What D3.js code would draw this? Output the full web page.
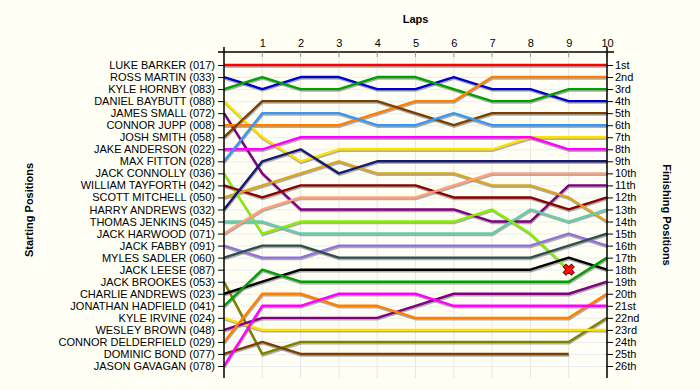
<!DOCTYPE html>
<html>
<head>
<meta charset="utf-8">
<script src="https://cdn.jsdelivr.net/npm/d3@7"></script>
<style>
  body { margin: 0; background: #fffff5; }
  svg { display: block; font-family: "Liberation Sans", Arial, sans-serif; }
</style>
</head>
<body>
<svg id="chart" width="700" height="390"></svg>
<script>
// drivers in starting order
var drivers = [
  "LUKE BARKER (017)", "ROSS MARTIN (033)", "KYLE HORNBY (083)", "DANIEL BAYBUTT (088)",
  "JAMES SMALL (072)", "CONNOR JUPP (008)", "JOSH SMITH (058)", "JAKE ANDERSON (022)",
  "MAX FITTON (028)", "JACK CONNOLLY (036)", "WILLIAM TAYFORTH (042)", "SCOTT MITCHELL (050)",
  "HARRY ANDREWS (032)", "THOMAS JENKINS (045)", "JACK HARWOOD (071)", "JACK FABBY (091)",
  "MYLES SADLER (060)", "JACK LEESE (087)", "JACK BROOKES (053)", "CHARLIE ANDREWS (023)",
  "JONATHAN HADFIELD (041)", "KYLE IRVINE (024)", "WESLEY BROWN (048)", "CONNOR DELDERFIELD (029)",
  "DOMINIC BOND (077)", "JASON GAVAGAN (078)"
];

var laps = [1, 2, 3, 4, 5, 6, 7, 8, 9, 10];

// position at lap 0..n for each driver (empty = no laps)
var lapPositions = [
  [1, 1, 1, 1, 1, 1, 1, 1, 1, 1, 1],
  [2, 3, 2, 2, 3, 3, 2, 3, 3, 4, 4],
  [3, 2, 3, 3, 2, 2, 3, 4, 4, 3, 3],
  [4, 7, 9, 8, 8, 8, 8, 8, 7, 7, 7],
  [5, 10, 13, 13, 13, 13, 13, 14, 14, 11, 11],
  [6, 6, 6, 6, 5, 4, 4, 2, 2, 2, 2],
  [7, 4, 4, 4, 4, 5, 6, 5, 5, 5, 5],
  [8, 8, 7, 7, 7, 7, 7, 7, 7, 8, 8],
  [9, 5, 5, 5, 6, 6, 5, 6, 6, 6, 6],
  [10, 15, 14, 14, 14, 14, 14, 13, 15, 18],
  [11, 12, 11, 11, 11, 11, 12, 12, 12, 13, 12],
  [12, 11, 10, 9, 10, 10, 10, 11, 11, 12, 14],
  [13, 9, 8, 10, 9, 9, 9, 9, 9, 9, 9],
  [14, 14, 15, 15, 15, 15, 15, 15, 13, 14, 13],
  [15, 13, 12, 12, 12, 12, 11, 10, 10, 10, 10],
  [16, 17, 17, 16, 16, 16, 16, 16, 16, 15, 16],
  [17, 16, 16, 17, 17, 17, 17, 17, 17, 16, 15],
  [],
  [19, 25, 24, 24, 24, 24, 24, 24, 24, 24, 22],
  [20, 19, 18, 18, 18, 18, 18, 18, 18, 17, 18],
  [21, 18, 19, 19, 19, 19, 19, 19, 19, 19, 17],
  [22, 23, 23, 23, 23, 23, 23, 23, 23, 23, 23],
  [23, 22, 22, 22, 22, 21, 20, 20, 20, 20, 19],
  [24, 20, 20, 21, 21, 22, 22, 22, 22, 22, 20],
  [25, 24, 25, 25, 25, 25, 25, 25, 25, 25],
  [26, 21, 21, 20, 20, 20, 21, 21, 21, 21, 21]
];

// drivers that retired (marked with a cross on their last lap)
var retired = ["JACK CONNOLLY (036)"];

var colors = [
  "#ff0000", "#0000cd", "#00a000", "#ffe000", "#800080", "#ff8000", "#7b3f00", "#ff00ff",
  "#3a96f0", "#88ee00", "#8b0000", "#daa520", "#191970", "#66cdaa", "#ffa07a", "#9370db",
  "#2f4f4f", "#808000", "#808000", "#000000", "#00a000", "#ffe000", "#800080", "#ff8000",
  "#7b3f00", "#ff00ff"
];

var ordinal = function (n) {
  var s = ["th", "st", "nd", "rd"], v = n % 100;
  return n + (s[(v - 20) % 10] || s[v] || s[0]);
};

var svg = d3.select("#chart");
var x = d3.scaleLinear().domain([0, 10]).range([224, 607]);
var y = d3.scaleLinear().domain([1, 26]).range([65, 366]);
var plotTop = 52, plotBottom = 378;
var positions = d3.range(1, 27);
var font = "Liberation Sans, Arial, sans-serif";

// grid
svg.append("g").selectAll("line").data(laps).enter().append("line")
  .attr("x1", function (d) { return x(d); }).attr("x2", function (d) { return x(d); })
  .attr("y1", plotTop).attr("y2", plotBottom)
  .style("stroke", "#e6e6e6").style("stroke-width", 1);
svg.append("g").selectAll("line").data(positions).enter().append("line")
  .attr("x1", x(0)).attr("x2", x(10))
  .attr("y1", function (d) { return y(d) + 0.5; }).attr("y2", function (d) { return y(d) + 0.5; })
  .style("stroke", "#ececec").style("stroke-width", 1);

// lines
var line = d3.line()
  .x(function (d, i) { return x(i); })
  .y(function (d) { return y(d); });

var series = drivers.map(function (name, i) {
  return { name: name, pos: lapPositions[i], color: colors[i] };
}).filter(function (d) { return d.pos.length > 0; });

svg.append("g").attr("transform", "translate(0.5,1.5)")
  .selectAll("path").data(series).enter().append("path")
  .attr("d", function (d) { return line(d.pos); })
  .style("fill", "none").style("stroke", "#8a8a8a").style("stroke-opacity", 0.7)
  .style("stroke-width", 2.4);

svg.append("g").selectAll("path").data(series).enter().append("path")
  .attr("d", function (d) { return line(d.pos); })
  .style("fill", "none").style("stroke", function (d) { return d.color; })
  .style("stroke-width", 2.4).style("stroke-linejoin", "round");

// retirement crosses
svg.append("g").selectAll("path")
  .data(series.filter(function (d) { return retired.indexOf(d.name) >= 0; }))
  .enter().append("path")
  .attr("transform", function (d) {
    var n = d.pos.length - 1;
    return "translate(" + x(n) + "," + y(d.pos[n]) + ") rotate(45)";
  })
  .attr("d", d3.symbol().type(d3.symbolCross).size(75))
  .style("fill", "#ff1010").style("stroke", "#7a0000").style("stroke-width", 1);

// axes
var axisTop = svg.append("g").attr("transform", "translate(0," + plotTop + ")")
  .call(d3.axisTop(x).tickValues(laps).tickSize(0).tickPadding(5));
axisTop.select(".domain").remove();
axisTop.selectAll("text").style("font-size", "11px").style("fill", "#000").style("font-family", font);
svg.append("line").attr("x1", 218).attr("x2", 614).attr("y1", plotTop).attr("y2", plotTop)
  .style("stroke", "#000").style("stroke-width", 1.5);
svg.append("g").selectAll("line").data(laps).enter().append("line")
  .attr("x1", function (d) { return x(d); }).attr("x2", function (d) { return x(d); })
  .attr("y1", plotTop).attr("y2", plotTop + 5)
  .style("stroke", "#999");

var axisLeft = svg.append("g").attr("transform", "translate(" + x(0) + ",0)")
  .call(d3.axisLeft(y).tickValues(positions).tickSize(6).tickPadding(3)
    .tickFormat(function (d) { return drivers[d - 1]; }));
var axisRight = svg.append("g").attr("transform", "translate(" + x(10) + ",0)")
  .call(d3.axisRight(y).tickValues(positions).tickSize(6).tickPadding(2)
    .tickFormat(ordinal));
[axisLeft, axisRight].forEach(function (a) {
  a.select(".domain").remove();
  a.selectAll("text").style("font-size", "11px").style("fill", "#000").style("font-family", font);
  a.selectAll(".tick line").style("stroke", "#000");
});
[x(0), x(10)].forEach(function (xv) {
  svg.append("line").attr("x1", xv).attr("x2", xv).attr("y1", plotTop - 5).attr("y2", plotBottom)
    .style("stroke", "#000").style("stroke-width", 1.5);
});

// titles
svg.append("text").attr("x", x(5)).attr("y", 23).attr("text-anchor", "middle")
  .style("font-size", "11px").style("font-weight", "bold").text("Laps");
svg.append("text").attr("transform", "translate(33,210) rotate(-90)").attr("text-anchor", "middle")
  .style("font-size", "11px").style("font-weight", "bold").text("Starting Positions");
svg.append("text").attr("transform", "translate(663,215) rotate(90)").attr("text-anchor", "middle")
  .style("font-size", "11px").style("font-weight", "bold").text("Finishing Positions");
</script>
</body>
</html>
